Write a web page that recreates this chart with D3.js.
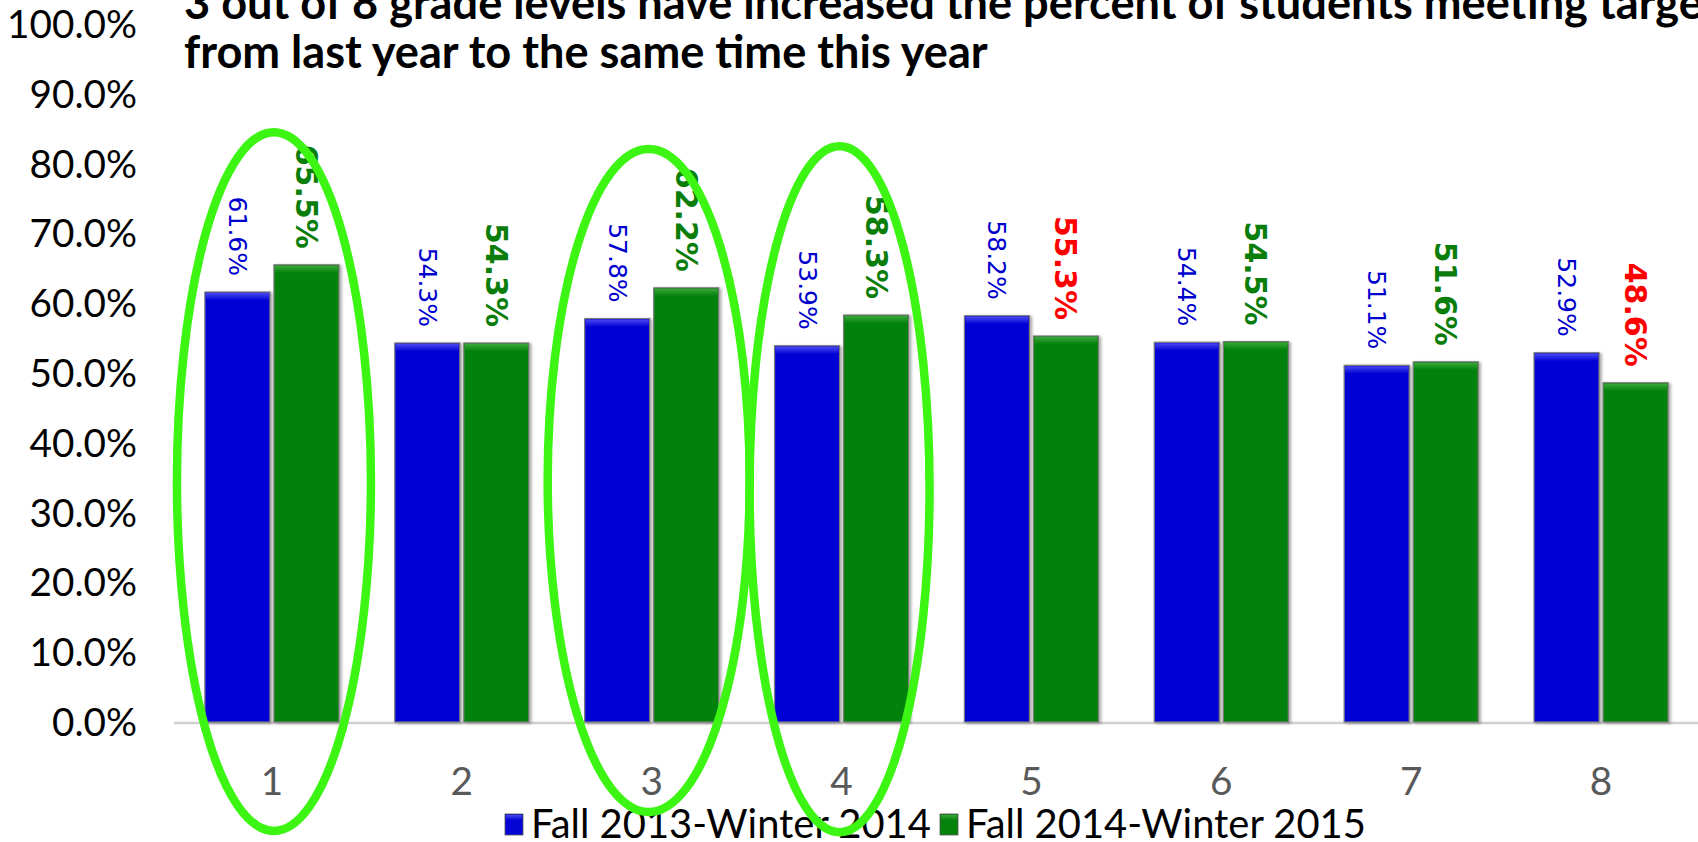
<!DOCTYPE html>
<html><head><meta charset="utf-8">
<script src="https://cdn.jsdelivr.net/npm/d3@7"></script>
<style>html,body{margin:0;padding:0;background:#fff;overflow:hidden}</style>
</head><body><svg id="chart" width="1698" height="842"></svg>
<script>
// ---- data ----
const grades = ["1","2","3","4","5","6","7","8"];
const fall2013Winter2014 = [61.6, 54.3, 57.8, 53.9, 58.2, 54.4, 51.1, 52.9];
const fall2014Winter2015 = [65.5, 54.3, 62.2, 58.3, 55.3, 54.5, 51.6, 48.6];
const seriesNames = ["Fall 2013-Winter 2014", "Fall 2014-Winter 2015"];
const yTickValues = [0, 10, 20, 30, 40, 50, 60, 70, 80, 90, 100];
const highlightedGrades = ["1", "3", "4"];
const titleLines = [
  "3 out of 8 grade levels have increased the percent of students meeting targets",
  "from last year to the same time this year"
];

// ---- layout / style ----
const W = 1698, H = 842;
const FONT = "Lato, 'Liberation Sans', sans-serif";
const LABEL_FONT = "'DejaVu Sans', Verdana, sans-serif";
const colors = {
  blue: "#0505d6", blueTop: "#4848f2",
  green: "#05820a", greenTop: "#3aa83c",
  labelBlue: "#0000cc", labelGreen: "#0a7d0a", labelRed: "#ff0000",
  ellipse: "#3cf512"
};
const ellipseShapes = { "1": {top: 84.5, bottom: -15.6, rx: 97, dx: 2},
                        "3": {top: 82.1, bottom: -12.9, rx: 101, dx: -3},
                        "4": {top: 82.5, bottom: -15.8, rx: 90, dx: -2} };

const svg = d3.select("#chart");
const defs = svg.append("defs");
function grad(id, top, base) {
  const g = defs.append("linearGradient").attr("id", id).attr("x1",0).attr("y1",0).attr("x2",0).attr("y2",1);
  g.append("stop").attr("offset","0%").attr("stop-color", top);
  g.append("stop").attr("offset","100%").attr("stop-color", base);
}
grad("gBlue", colors.blueTop, colors.blue);
grad("gGreen", colors.greenTop, colors.green);
const shadow = defs.append("filter").attr("id","shadow").attr("x","-10%").attr("y","-5%").attr("width","130%").attr("height","115%");
shadow.append("feDropShadow").attr("dx",2).attr("dy",1).attr("stdDeviation",1.5).attr("flood-color","#000").attr("flood-opacity",0.35);

const x = d3.scaleBand().domain(grades).range([177, 1696]).paddingInner(0).paddingOuter(0);
const xs = d3.scaleBand().domain([0, 1]).range([0, x.bandwidth()]).paddingInner(0.058).paddingOuter(0.404);
const y = d3.scaleLinear().domain([0, 100]).range([722, 24]);

function fit(sel, target) {
  const n = sel.node();
  const fs = parseFloat(sel.attr("font-size"));
  const w = n.getComputedTextLength();
  const nf = fs * target / w;
  sel.attr("font-size", nf);
  return nf;
}

// title
const title = svg.append("g");
titleLines.forEach((t, i) => {
  title.append("text").attr("x", 184).attr("y", 19 + i * 48.5)
    .attr("font-family", FONT).attr("font-weight", "bold").attr("font-size", 44)
    .attr("fill", "#000").text(t);
});
const t2 = title.selectAll("text").filter((d, i) => i === 1);
const tfs = fit(t2, 804);
title.selectAll("text").attr("font-size", tfs);

// y axis labels
const yAxis = svg.append("g").attr("transform", "translate(137,0)")
  .call(d3.axisLeft(y).tickValues(yTickValues).tickFormat(d => d.toFixed(1) + "%").tickSize(0).tickPadding(0));
yAxis.select(".domain").remove();
yAxis.selectAll("text").attr("font-family", FONT).attr("font-size", 40).attr("fill", "#000").attr("dy", "0.35em");
const topLabel = yAxis.selectAll("text").filter(d => d === 100);
const yfs = fit(topLabel, 130);
yAxis.selectAll("text").attr("font-size", yfs);

// x baseline + category labels
svg.append("line").attr("x1", 174).attr("x2", W).attr("y1", y(0) + 1).attr("y2", y(0) + 1)
  .attr("stroke", "#d0d0d0").attr("stroke-width", 2.5);
const xAxis = svg.append("g").attr("transform", `translate(0,${y(0)})`)
  .call(d3.axisBottom(x).tickSize(0).tickPadding(0));
xAxis.select(".domain").remove();
xAxis.selectAll("text").attr("font-family", FONT).attr("font-size", yfs).attr("fill", "#595959")
  .attr("dy", null).attr("y", 58).attr("dominant-baseline", "central");

// bars
const rows = grades.map((g, i) => ({grade: g, vals: [fall2013Winter2014[i], fall2014Winter2015[i]]}));
const groups = svg.append("g").selectAll("g").data(rows).join("g")
  .attr("transform", d => `translate(${x(d.grade)},0)`);
const bars = groups.selectAll("g.bar").data(d => d.vals.map((v, k) => ({v, k, other: d.vals[0]}))).join("g").attr("class","bar");
bars.append("rect")
  .attr("x", d => xs(d.k)).attr("width", xs.bandwidth())
  .attr("y", d => y(d.v)).attr("height", d => y(0) - y(d.v))
  .attr("fill", d => d.k === 0 ? colors.blue : colors.green)
  .attr("stroke", "#7a7a7a").attr("stroke-width", 1.2).attr("filter", "url(#shadow)");
bars.append("rect")
  .attr("x", d => xs(d.k) + 1).attr("width", xs.bandwidth() - 2)
  .attr("y", d => y(d.v) + 1).attr("height", 7)
  .attr("fill", d => d.k === 0 ? "url(#gBlue)" : "url(#gGreen)");

// value labels (rotated)
bars.append("text")
  .attr("transform", d => `translate(${xs(d.k) + xs.bandwidth() / 2},${y(d.v) - 16}) rotate(90)`)
  .attr("text-anchor", "end").attr("dominant-baseline", "central")
  .attr("font-family", LABEL_FONT)
  .attr("font-weight", d => d.k === 0 ? "normal" : "bold")
  .attr("font-size", d => d.k === 0 ? 25 : 30)
  .attr("fill", d => d.k === 0 ? colors.labelBlue : (d.v < d.other ? colors.labelRed : colors.labelGreen))
  .text(d => d.v.toFixed(1) + "%");

// legend
const legend = svg.append("g");
const legendItems = [{name: seriesNames[0], c: "url(#gBlueL)", base: colors.blue, x: 505},
                     {name: seriesNames[1], c: "url(#gGreenL)", base: colors.green, x: 940}];
legendItems.forEach(it => {
  legend.append("rect").attr("x", it.x).attr("y", 814).attr("width", 18).attr("height", 21)
    .attr("fill", it.base).attr("stroke", "#555").attr("stroke-width", 0.8);
  legend.append("rect").attr("x", it.x + 1).attr("y", 815).attr("width", 16).attr("height", 5)
    .attr("fill", it.base === colors.blue ? "url(#gBlue)" : "url(#gGreen)");
  const t = legend.append("text").attr("x", it.x + 26).attr("y", 838)
    .attr("font-family", FONT).attr("font-size", 40).attr("fill", "#000").text(it.name);
  fit(t, 400);
});

// highlight ellipses
svg.append("g").selectAll("ellipse").data(highlightedGrades).join("ellipse")
  .attr("cx", g => x(g) + x.bandwidth() / 2 + ellipseShapes[g].dx)
  .attr("cy", g => (y(ellipseShapes[g].top) + y(ellipseShapes[g].bottom)) / 2)
  .attr("rx", g => ellipseShapes[g].rx)
  .attr("ry", g => (y(ellipseShapes[g].bottom) - y(ellipseShapes[g].top)) / 2)
  .attr("fill", "none").attr("stroke", colors.ellipse).attr("stroke-width", 8.5);
</script></body></html>
